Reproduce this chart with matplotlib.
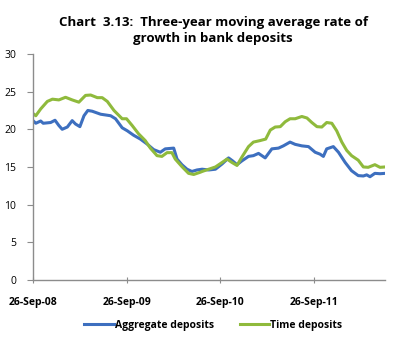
import matplotlib
matplotlib.use("Agg")
import matplotlib.pyplot as plt
import matplotlib.dates as mdates
import pandas as pd

# Aggregate deposits
agg_dates = ['2008-09-26', '2008-10-07', '2008-10-26', '2008-11-05', '2008-12-04', '2008-12-21',
             '2009-01-05', '2009-01-18', '2009-02-07', '2009-02-26', '2009-03-11', '2009-03-28',
             '2009-04-13', '2009-04-28', '2009-05-15', '2009-06-17', '2009-07-26', '2009-08-14',
             '2009-09-09', '2009-09-29', '2009-10-24', '2009-11-19', '2009-12-15', '2010-01-10',
             '2010-02-05', '2010-02-24', '2010-03-29', '2010-04-11', '2010-04-30', '2010-05-20',
             '2010-06-08', '2010-06-28', '2010-07-18', '2010-08-13', '2010-09-08', '2010-10-04',
             '2010-10-29', '2010-11-14', '2010-12-01', '2010-12-20', '2011-01-15', '2011-02-03',
             '2011-02-23', '2011-03-21', '2011-04-16', '2011-05-12', '2011-05-31', '2011-06-26',
             '2011-07-16', '2011-08-11', '2011-09-06', '2011-10-02', '2011-10-21', '2011-11-03',
             '2011-11-16', '2011-12-12', '2012-01-01', '2012-01-27', '2012-02-21', '2012-03-18',
             '2012-04-07', '2012-04-20', '2012-05-03', '2012-05-22', '2012-06-11', '2012-07-01']
agg_values = [21.15, 20.8, 21.1, 20.8, 20.9, 21.2,
              20.5, 20.0, 20.3, 21.15, 20.7, 20.35,
              21.8, 22.5, 22.4, 22.0, 21.8, 21.4,
              20.2, 19.8, 19.2, 18.7, 18.05, 17.3,
              16.95, 17.4, 17.5, 16.05, 15.3, 14.7,
              14.4, 14.6, 14.7, 14.6, 14.7, 15.4,
              16.2, 15.8, 15.3, 15.8, 16.4, 16.5,
              16.8, 16.2, 17.4, 17.5, 17.8, 18.3,
              18.0, 17.8, 17.7, 16.95, 16.7, 16.4,
              17.4, 17.7, 16.95, 15.6, 14.5, 13.85,
              13.8, 13.95, 13.7, 14.15, 14.1, 14.15]

# Time deposits
time_dates = ['2008-09-26', '2008-10-07', '2008-10-26', '2008-11-21', '2008-12-11', '2009-01-05',
              '2009-01-31', '2009-02-26', '2009-03-24', '2009-04-19', '2009-05-09', '2009-06-04',
              '2009-06-23', '2009-07-13', '2009-08-08', '2009-09-09', '2009-09-26', '2009-10-18',
              '2009-11-12', '2009-12-08', '2009-12-28', '2010-01-23', '2010-02-11', '2010-03-03',
              '2010-03-22', '2010-04-04', '2010-04-30', '2010-05-26', '2010-06-15', '2010-07-11',
              '2010-07-18', '2010-08-13', '2010-09-08', '2010-10-04', '2010-10-23', '2010-11-11',
              '2010-12-01', '2010-12-20', '2011-01-15', '2011-02-03', '2011-03-01', '2011-03-23',
              '2011-04-10', '2011-04-29', '2011-05-19', '2011-06-07', '2011-06-26', '2011-07-16',
              '2011-08-11', '2011-08-31', '2011-09-19', '2011-10-09', '2011-10-28', '2011-11-16',
              '2011-12-06', '2011-12-25', '2012-01-14', '2012-02-02', '2012-02-21', '2012-03-18',
              '2012-04-07', '2012-04-26', '2012-05-22', '2012-06-11', '2012-07-01']
time_values = [22.1, 21.8, 22.7, 23.7, 24.0, 23.9,
               24.25, 23.9, 23.6, 24.5, 24.55, 24.2,
               24.2, 23.7, 22.5, 21.4, 21.4, 20.5,
               19.4, 18.5, 17.5, 16.5, 16.4, 16.9,
               16.9, 16.05, 15.05, 14.15, 14.0, 14.3,
               14.4, 14.7, 15.0, 15.6, 16.05, 15.6,
               15.2, 16.3, 17.7, 18.3, 18.5, 18.7,
               19.9, 20.3, 20.35, 21.0, 21.4, 21.4,
               21.7, 21.5, 20.9, 20.35, 20.3, 20.9,
               20.8, 19.8, 18.3, 17.2, 16.5, 15.9,
               15.0, 14.95, 15.3, 14.95, 15.0]

tick_dates = ['2008-09-26', '2009-09-26', '2010-09-26', '2011-09-26']

plt.rcParams['font.family'] = ['Open Sans', 'DejaVu Sans']

fig = plt.figure(figsize=(3.95, 3.46), dpi=100)
ax = fig.add_axes([0.0835, 0.191, 0.8915, 0.653])

ax.plot(pd.to_datetime(agg_dates), agg_values, color='#3d6fbf', lw=2.2, label='Aggregate deposits')
ax.plot(pd.to_datetime(time_dates), time_values, color='#8fba3c', lw=2.2, label='Time deposits')

ax.set_xlim(pd.Timestamp(agg_dates[0]), pd.Timestamp(agg_dates[-1]))
ax.set_ylim(0, 30)
ax.set_yticks(range(0, 31, 5))
ax.set_xticks(pd.to_datetime(tick_dates))
ax.xaxis.set_major_formatter(mdates.DateFormatter('%d-%b-%y'))

for s in ['top', 'right']:
    ax.spines[s].set_visible(False)
for s in ['left', 'bottom']:
    ax.spines[s].set_color('#8c8c8c')
    ax.spines[s].set_linewidth(1.0)

ax.tick_params(axis='y', direction='out', length=4, color='#8c8c8c', labelsize=7.5, pad=8)
ax.tick_params(axis='x', direction='inout', length=4, color='#8c8c8c', labelsize=7.5, pad=10)
for lab in ax.get_xticklabels():
    lab.set_fontweight('bold')

fig.text(0.54, 0.955, 'Chart  3.13:  Three-year moving average rate of\ngrowth in bank deposits',
         ha='center', va='top', fontsize=9.5, fontweight='bold', linespacing=1.3)

leg = fig.legend(loc='center', bbox_to_anchor=(0.54, 0.06), ncol=2, frameon=False,
                 prop={'size': 7.5, 'weight': 'bold'}, handlelength=2.8, handletextpad=0.1,
                 columnspacing=2.5)

fig.savefig('out.png', dpi=100)
